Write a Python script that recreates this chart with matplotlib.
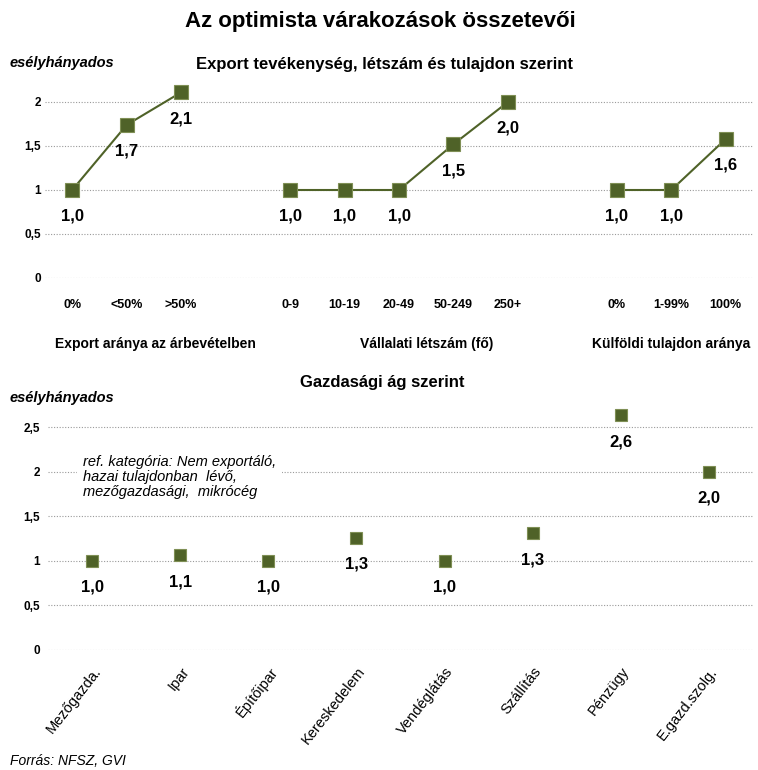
import matplotlib
matplotlib.use("Agg")
import matplotlib.pyplot as plt
from matplotlib.transforms import blended_transform_factory, offset_copy

plt.rcParams['font.family'] = ['Liberation Sans', 'DejaVu Sans']

# ---- data ----
export_cats = ["0%", "<50%", ">50%"]
export_vals = [1.0, 1.74, 2.11]
size_cats = ["0-9", "10-19", "20-49", "50-249", "250+"]
size_vals = [1.0, 1.0, 1.0, 1.52, 2.0]
foreign_cats = ["0%", "1-99%", "100%"]
foreign_vals = [1.0, 1.0, 1.58]
group_names = ["Export aránya az árbevételben", "Vállalati létszám (fő)", "Külföldi tulajdon aránya"]

sector_cats = ["Mezőgazda.", "Ipar", "Építőipar", "Kereskedelem", "Vendéglátás",
               "Szállítás", "Pénzügy", "E.gazd.szolg."]
sector_vals = [1.0, 1.06, 1.0, 1.26, 1.0, 1.31, 2.63, 2.0]

W, H = 758, 770
fig = plt.figure(figsize=(W / 100, H / 100), dpi=100)

GREEN = "#4F6228"
EDGE = "#7F8F55"
GRID = "#9A9A9A"

def px_axes(left, top, right, bottom):
    return fig.add_axes([left / W, 1 - bottom / H, (right - left) / W, (bottom - top) / H])

def fmt(v):
    return f"{v:.1f}".replace(".", ",")

def style(ax, yticks):
    for s in ax.spines.values():
        s.set_visible(False)
    ax.set_yticks(yticks)
    ax.set_yticklabels([("%g" % t).replace(".", ",") for t in yticks],
                       fontsize=8.5, fontweight="bold")
    ax.tick_params(axis="y", length=0, pad=3)
    ax.tick_params(axis="x", length=0)
    ax.grid(axis="y", linestyle=(0, (1, 1.5)), color=GRID, linewidth=0.8)
    ax.set_axisbelow(True)

# ---- title ----
fig.text(380 / W, 1 - 21 / H, "Az optimista várakozások összetevői",
         ha="center", va="center", fontsize=16, fontweight="bold")

# ---- top panel ----
ax1 = px_axes(45, 278 - 2.2 * 88, 753, 278)
ax1.set_xlim(-0.5, 12.5)
ax1.set_ylim(0, 2.2)
style(ax1, [0, 0.5, 1, 1.5, 2])
ax1.set_xticks([])

groups = [(0, export_cats, export_vals), (4, size_cats, size_vals), (10, foreign_cats, foreign_vals)]
trans_x = blended_transform_factory(ax1.transData, fig.transFigure)
for start, cats, vals in groups:
    xs = list(range(start, start + len(cats)))
    ax1.plot(xs, vals, color=GREEN, lw=1.5, marker="s", markersize=9.5,
             markerfacecolor=GREEN, markeredgecolor=EDGE, markeredgewidth=0.8, zorder=3)
    for x, v, c in zip(xs, vals, cats):
        ax1.annotate(fmt(v), (x, v), xytext=(0, -19), textcoords="offset points",
                     ha="center", va="center", fontsize=12, fontweight="bold")
        ax1.text(x, 1 - 305 / H, c, transform=trans_x, ha="center", va="center",
                 fontsize=9, fontweight="bold")

group_x = [1.52, 6.5, 11.0]
for gx, name in zip(group_x, group_names):
    ax1.text(gx, 1 - 344 / H, name, transform=trans_x, ha="center", va="center",
             fontsize=10, fontweight="bold")

fig.text(384 / W, 1 - 64 / H, "Export tevékenység, létszám és tulajdon szerint",
         ha="center", va="center", fontsize=12, fontweight="bold")
fig.text(10 / W, 1 - 63 / H, "esélyhányados", ha="left", va="center",
         fontsize=10.5, fontweight="bold", style="italic")

# ---- bottom panel ----
unit = 89.2
ax2 = px_axes(48, 650 - 2.75 * unit, 753, 650)
ax2.set_xlim(-0.5, 7.5)
ax2.set_ylim(0, 2.75)
style(ax2, [0, 0.5, 1, 1.5, 2, 2.5])
ax2.tick_params(axis="y", pad=6)
xs = list(range(len(sector_cats)))
ax2.plot(xs, sector_vals, linestyle="none", marker="s", markersize=8.5,
         markerfacecolor=GREEN, markeredgecolor=EDGE, markeredgewidth=0.8, zorder=3)
for x, v in zip(xs, sector_vals):
    ax2.annotate(fmt(v), (x, v), xytext=(0, -19), textcoords="offset points",
                 ha="center", va="center", fontsize=12, fontweight="bold")

trans2 = blended_transform_factory(ax2.transData, fig.transFigure)
lab_tr = offset_copy(trans2, fig=fig, x=6, y=0, units="dots")
ax2.set_xticks([])
for x, c in zip(xs, sector_cats):
    ax2.text(x, 1 - 669 / H, c, transform=lab_tr, rotation=52, rotation_mode="anchor",
             ha="right", va="center", fontsize=10.5)

ax2.text(83 / W, 1 - 477 / H,
         "ref. kategória: Nem exportáló,\nhazai tulajdonban  lévő,\nmezőgazdasági,  mikrócég",
         transform=fig.transFigure, ha="left", va="center", fontsize=10.5, style="italic",
         linespacing=1.1,
         bbox=dict(facecolor="white", edgecolor="none", pad=4), zorder=4)

fig.text(382 / W, 1 - 382 / H, "Gazdasági ág szerint", ha="center", va="center",
         fontsize=12, fontweight="bold")
fig.text(10 / W, 1 - 398 / H, "esélyhányados", ha="left", va="center",
         fontsize=10.5, fontweight="bold", style="italic")

fig.text(10 / W, 1 - 761 / H, "Forrás: NFSZ, GVI", ha="left", va="center",
         fontsize=10, style="italic")

fig.savefig("out.png", dpi=100)
